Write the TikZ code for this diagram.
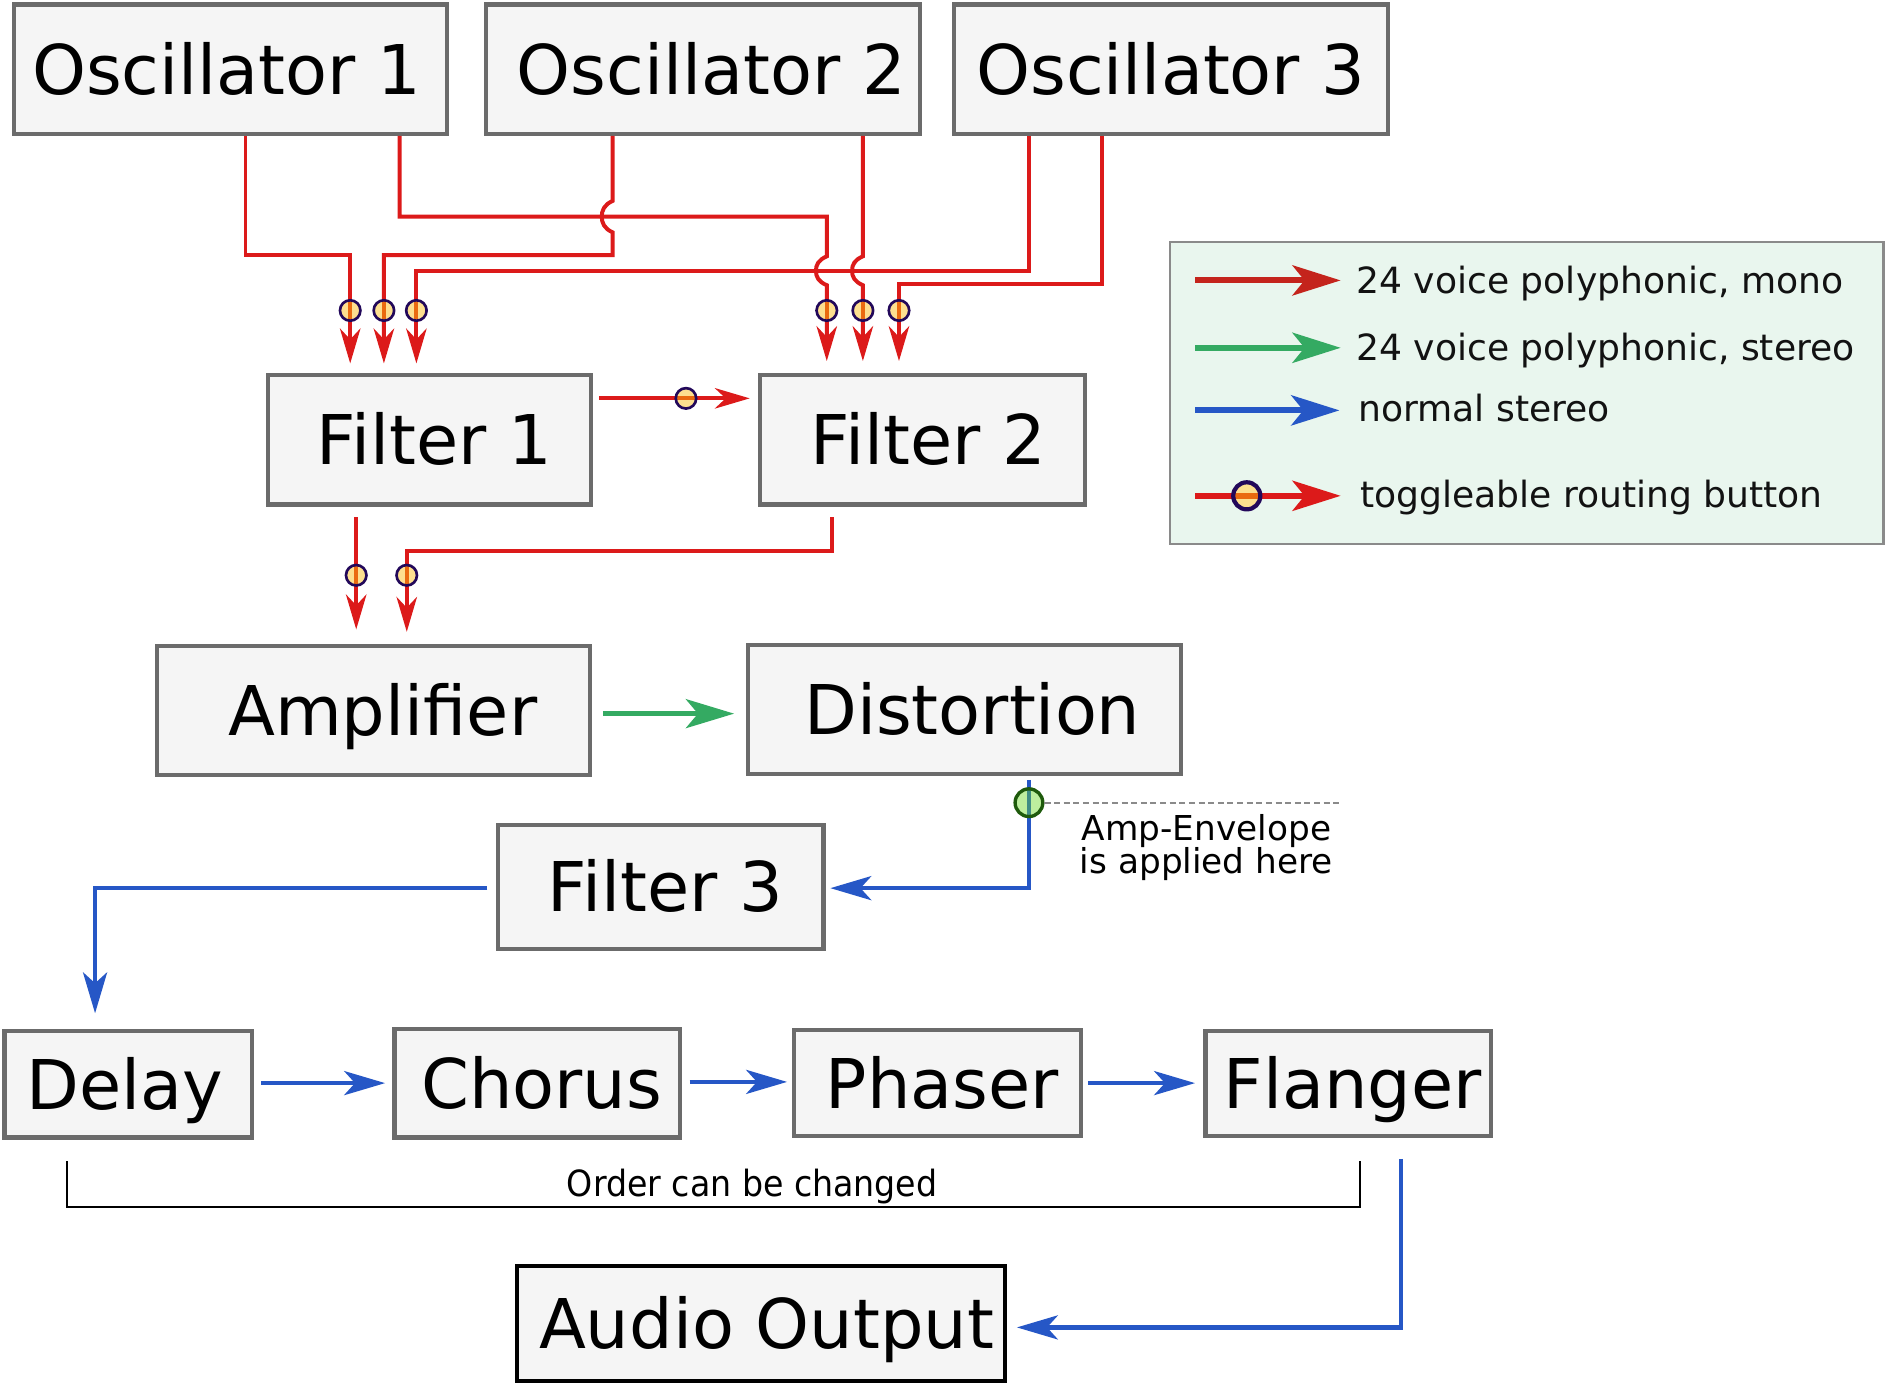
\documentclass[tikz,border=0pt]{standalone}
\usepackage{fontspec}
\setmainfont{DejaVu Sans}
\newfontfamily\condfont[FakeStretch=0.92]{DejaVu Sans}
\usetikzlibrary{arrows.meta,calc}
\definecolor{boxgray}{HTML}{6B6B6B}
\definecolor{boxfill}{HTML}{F5F5F5}
\definecolor{redc}{HTML}{DC1A1A}
\definecolor{legred}{HTML}{C4241C}
\definecolor{greenc}{HTML}{34AA62}
\definecolor{bluec}{HTML}{2657C6}
\definecolor{ringc}{HTML}{22085A}
\definecolor{btnfill}{HTML}{FDDF8F}
\definecolor{btnline}{HTML}{EA6A10}
\definecolor{envfill}{HTML}{BDEE9E}
\definecolor{envring}{HTML}{1E5A0C}
\definecolor{envline}{HTML}{3F8C84}
\definecolor{legfill}{HTML}{E9F6EE}
\definecolor{leggray}{HTML}{8A8A8A}
\definecolor{dashc}{HTML}{8A8A8A}
\begin{document}
\begin{tikzpicture}[x=1pt,y=-1pt,
  box/.style={draw=boxgray, line width=3.5pt, fill=boxfill,
    font=\fontsize{57}{68}\selectfont, text height=41.6pt, text depth=0pt, inner sep=0pt},
  rline/.style={draw=redc, line width=3.3pt, -{Stealth[length=29pt,width=17pt,inset=9pt]}},
  gline/.style={draw=greenc, line width=4.4pt, -{Stealth[length=40pt,width=24pt,inset=10pt]}},
  bline/.style={draw=bluec, line width=3.5pt, -{Stealth[length=34pt,width=20pt,inset=9pt]}},
  btnv/.style={circle, draw=ringc, line width=2.2pt, fill=btnfill, minimum size=17pt, inner sep=0pt,
    path picture={\draw[draw=btnline, line width=3.3pt] (path picture bounding box.north) -- (path picture bounding box.south);}},
  btnh/.style={circle, draw=ringc, line width=2.2pt, fill=btnfill, minimum size=17pt, inner sep=0pt,
    path picture={\draw[draw=btnline, line width=3.3pt] (path picture bounding box.west) -- (path picture bounding box.east);}},
  legtext/.style={anchor=base west, inner sep=0pt, font=\fontsize{30}{36}\selectfont, text=black!93}
]
\useasboundingbox (0,0) rectangle (1568,1151);

% ---------- boxes ----------
\node[box, minimum width=359.5pt, minimum height=107.5pt] (osc1) at (191.5,57.5) {Oscillator 1\hspace*{6pt}};
\node[box, minimum width=360.5pt, minimum height=107.5pt] (osc2) at (584,57.5) {\hspace*{14pt}Oscillator 2};
\node[box, minimum width=360.5pt, minimum height=107.5pt] (osc3) at (973,57.5) {Oscillator 3};
\node[box, minimum width=268.5pt, minimum height=107.5pt] (f1) at (357,365.5) {\hspace*{8pt}Filter 1};
\node[box, minimum width=269.5pt, minimum height=107.5pt] (f2) at (766.5,365.5) {\hspace*{10pt}Filter 2};
\node[box, minimum width=359.5pt, minimum height=107.5pt] (amp) at (310.5,590.5) {\hspace*{15pt}Amplifier};
\node[box, minimum width=359.5pt, minimum height=107.5pt] (dist) at (801.5,589.5) {\hspace*{13pt}Distortion};
\node[box, minimum width=270.5pt, minimum height=102.5pt] (f3) at (549,737) {\hspace*{8pt}Filter 3};
\node[box, minimum width=205.5pt, minimum height=88.5pt] (delay) at (106.5,901) {Delay\hspace*{6pt}};
\node[box, minimum width=237.5pt, minimum height=90.5pt] (chorus) at (446.5,900) {\hspace*{7pt}Chorus};
\node[box, minimum width=238.5pt, minimum height=88.5pt] (phaser) at (779,900) {\hspace*{8pt}Phaser};
\node[box, minimum width=237.5pt, minimum height=87.5pt] (flanger) at (1120.5,900.5) {\hspace*{7pt}Flanger};
\node[box, draw=black, minimum width=405.5pt, minimum height=95.5pt] (audio) at (632.5,1099.5) {\hspace*{9pt}Audio Output};

% ---------- red connectors: oscillators to filters ----------
\draw[rline] ([xshift=12.5pt]osc1.south) -- (204,212) -| ([xshift=-66pt,yshift=8pt]f1.north);
\draw[rline] ([xshift=140.5pt]osc1.south) |- (687,180) -- (687,213)
  .. controls (680,216) and (678,220) .. (678,225)
  .. controls (678,230) and (680,234) .. (687,237)
  -- ([xshift=-79.5pt,yshift=10pt]f2.north);
\draw[rline] ([xshift=-75pt]osc2.south) -- (509,167)
  .. controls (502,170) and (500,175) .. (500,180)
  .. controls (500,185) and (502,190) .. (509,193)
  -- (509,212) -| ([xshift=-38pt,yshift=8pt]f1.north);
\draw[rline] ([xshift=133pt]osc2.south) -- (717,213)
  .. controls (710,216) and (708,220) .. (708,225)
  .. controls (708,230) and (710,234) .. (717,237)
  -- ([xshift=-49.5pt,yshift=10pt]f2.north);
\draw[rline] ([xshift=-118pt]osc3.south) -- (855,225) -| ([xshift=-11pt,yshift=8pt]f1.north);
\draw[rline] ([xshift=-57pt]osc3.south) -- (916,236) -| ([xshift=-19.5pt,yshift=10pt]f2.north);

% ---------- red connectors: filters ----------
\draw[rline] ([xshift=5pt,yshift=34.5pt]f1.east) -- ([xshift=-7pt,yshift=34.5pt]f2.west);
\draw[rline] ([xshift=-61pt,yshift=-9pt]f1.south) -- ([xshift=-14.5pt,yshift=12pt]amp.north);
\draw[rline] ([xshift=-75.5pt,yshift=-9pt]f2.south) -- (691,458) -| ([xshift=27.5pt,yshift=10pt]amp.north);

% ---------- routing buttons ----------
\node[btnv] (b1) at (291,258) {};
\node[btnv] (b2) at (319,258) {};
\node[btnv] (b3) at (346,258) {};
\node[btnv] (b4) at (687,258) {};
\node[btnv] (b5) at (717,258) {};
\node[btnv] (b6) at (747,258) {};
\node[btnh] (b7) at (570,331) {};
\node[btnv] (b8) at (296,478) {};
\node[btnv] (b9) at (338,478) {};

% ---------- green / blue ----------
\draw[gline] ([xshift=9pt,yshift=-2.5pt]amp.east) -- ([xshift=-10pt,yshift=-3.5pt]dist.west);
\draw[bline] ([xshift=53.5pt,yshift=-3pt]dist.south) -- (855,738) -- ([xshift=4pt,yshift=-1pt]f3.east);
\node[circle, draw=envring, line width=2.8pt, fill=envfill, minimum size=23pt, inner sep=0pt,
  path picture={\draw[draw=envline, line width=3.5pt] (path picture bounding box.north) -- (path picture bounding box.south);}]
  (env) at (855,667) {};
\coordinate (envend) at (1115,667);
\draw[dashc, line width=1.4pt, dash pattern=on 5pt off 3pt] (env.east) -- (envend);
\node[align=center, inner sep=0pt, font=\fontsize{28.5}{27.7}\selectfont] (envtext) at (1002.5,704) {Amp-Envelope\\is applied here};

\draw[bline] ([xshift=-7pt,yshift=-1pt]f3.west) -| ([xshift=-27.5pt,yshift=13pt]delay.north);
\draw[bline] ([xshift=6pt,yshift=1pt]delay.east) -- ([xshift=-6pt]chorus.west);
\draw[bline] ([xshift=6pt,yshift=1pt]chorus.east) -- ([xshift=-4pt,yshift=1pt]phaser.west);
\draw[bline] ([xshift=4pt]phaser.east) -- ([xshift=-7pt,yshift=0.5pt]flanger.west);
\draw[bline] ([xshift=43.5pt,yshift=-17pt]flanger.south) -- (1164,1103) -- ([xshift=8pt,yshift=-3.5pt]audio.east);

% ---------- bracket ----------
\draw[black, line width=1.5pt] (56,965) -- (56,1003) -- (1130,1003) -- (1130,965);
\node[anchor=base, inner sep=0pt, font=\condfont\fontsize{30}{36}\selectfont] (order) at (625,994) {Order can be changed};

% ---------- legend ----------
\node[draw=leggray, fill=legfill, line width=2pt, minimum width=593pt, minimum height=251pt, inner sep=0pt] (legend) at (1268.5,326.5) {};
\coordinate (l1a) at (993,233); \coordinate (l1b) at (1114,233);
\coordinate (l2a) at (993,289); \coordinate (l2b) at (1114,289);
\coordinate (l3a) at (993,341); \coordinate (l3b) at (1113,341);
\coordinate (l4a) at (993,412); \coordinate (l4b) at (1114,412);
\draw[draw=legred, line width=5pt, -{Stealth[length=40pt,width=25pt,inset=10pt]}] (l1a) -- (l1b);
\draw[draw=greenc, line width=5pt, -{Stealth[length=40pt,width=25pt,inset=10pt]}] (l2a) -- (l2b);
\draw[draw=bluec, line width=5pt, -{Stealth[length=40pt,width=25pt,inset=10pt]}] (l3a) -- (l3b);
\draw[draw=redc, line width=5pt, -{Stealth[length=40pt,width=25pt,inset=10pt]}] (l4a) -- (l4b);
\node[circle, draw=ringc, line width=3.5pt, fill=btnfill, minimum size=22.5pt, inner sep=0pt,
  path picture={\draw[draw=btnline, line width=5pt] (path picture bounding box.west) -- (path picture bounding box.east);}]
  (lbtn) at (1036,412) {};
\node[legtext] (lt1) at (1127,244) {24 voice polyphonic, mono};
\node[legtext] (lt2) at (1127,299.5) {24 voice polyphonic, stereo};
\node[legtext] (lt3) at (1128.5,350) {normal stereo};
\node[legtext] (lt4) at (1130,422) {toggleable routing button};
\end{tikzpicture}
\end{document}
